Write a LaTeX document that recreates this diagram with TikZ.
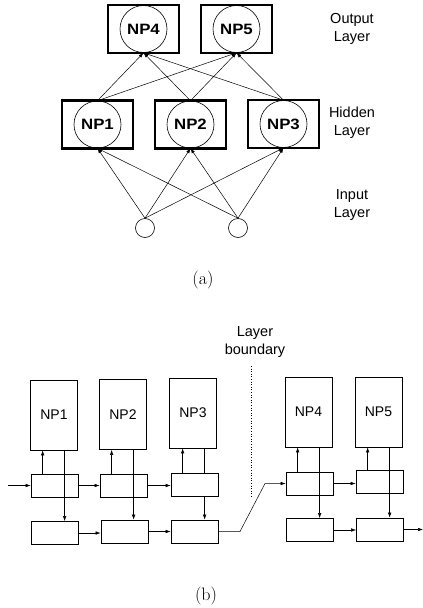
\documentclass[tikz,border=0pt]{standalone}
\usepackage{fontspec}
\newfontfamily\arialf{Liberation Sans}
\usetikzlibrary{arrows.meta}
\begin{document}
\begin{tikzpicture}[x=1pt,y=-1pt,
  arr/.style={-{Latex[length=5pt,width=3.5pt]}},
  lnk/.style={line width=0.5pt},
  nbox/.style={draw,line width=2.2pt,minimum width=71pt,minimum height=48pt,inner sep=0},
  ncirc/.style={draw,circle,line width=0.6pt,minimum size=47pt,inner sep=0,font=\arialf\bfseries\fontsize{15}{15}\selectfont},
  incirc/.style={draw,circle,line width=0.6pt,minimum size=19pt,inner sep=0},
  lab/.style={font=\arialf\fontsize{14.5}{18}\selectfont,align=center},
  bigbox/.style={draw,line width=0.7pt,minimum width=47pt,minimum height=70pt,inner sep=0,font=\arialf\fontsize{14}{14}\selectfont},
  smbox/.style={draw,line width=0.7pt,minimum width=47pt,minimum height=23pt,inner sep=0},
  capt/.style={font=\fontsize{18}{18}\selectfont}
]
\useasboundingbox (0,0) rectangle (423,608);

% ---------- (a) ----------
\node[nbox] (b4) at (143.5,29) {};
\node[nbox] (b5) at (236.5,29) {};
\node[nbox] (b1) at (97.5,124.5) {};
\node[nbox] (b2) at (190.5,124.5) {};
\node[nbox] (b3) at (283.5,124) {};
\node[ncirc] (c4) at (b4) {\scalebox{1.12}[1]{NP4}};
\node[ncirc] (c5) at (b5) {\scalebox{1.12}[1]{NP5}};
\node[ncirc] (c1) at (b1) {\scalebox{1.12}[1]{NP1}};
\node[ncirc] (c2) at (b2) {\scalebox{1.12}[1]{NP2}};
\node[ncirc] (c3) at (b3) {\scalebox{1.12}[1]{NP3}};
\node[incirc] (in1) at (145,228) {};
\node[incirc] (in2) at (238,228) {};

\foreach \s in {c1,c2,c3}{
  \foreach \t in {c4,c5}{
    \draw[lnk,arr] (\s.north) -- (\t.south);
  }
}
\foreach \s in {in1,in2}{
  \foreach \t in {c1,c2,c3}{
    \draw[lnk,arr] (\s.north) -- (\t.south);
  }
}

\node[lab] (lo) at (352,29) {Output\\Layer};
\node[lab] (lh) at (352,122.5) {Hidden\\Layer};
\node[lab] (li) at (352,205) {Input\\Layer};
\node[capt] (capa) at (203,280) {(a)};

% ---------- (b) ----------
\node[lab] (lb) at (255,342.5) {Layer\\boundary};
\coordinate (bdtop) at (251,366);
\coordinate (bdbot) at (251,498);
\draw[line width=0.6pt,dotted] (bdtop) -- (bdbot);

\node[bigbox] (P1) at (54,415) {NP1};
\node[bigbox] (P2) at (123,414.5) {NP2};
\node[bigbox] (P3) at (193,413) {NP3};
\node[bigbox] (P4) at (308.5,412) {NP4};
\node[bigbox] (P5) at (378.5,412) {NP5};

\node[smbox] (U1) at (54.5,485.5) {};
\node[smbox] (U2) at (123.5,485.5) {};
\node[smbox] (U3) at (194.5,484.5) {};
\node[smbox] (U4) at (309.5,483.5) {};
\node[smbox] (U5) at (379.5,482) {};

\node[smbox] (L1) at (55,533) {};
\node[smbox] (L2) at (124.5,531.5) {};
\node[smbox] (L3) at (194.5,531.5) {};
\node[smbox] (L4) at (309.5,530) {};
\node[smbox] (L5) at (380,529.5) {};

% vertical connections
\foreach \i in {1,2,3,4,5}{
  \coordinate (up\i) at ([xshift=12pt]U\i.north west);
  \coordinate (dn\i) at ([xshift=34pt]U\i.north west);
  \draw[lnk,arr] (up\i) -- (up\i |- P\i.south);
}
\draw[lnk,arr] (dn1 |- P1.south) -- (dn1 |- L1.north);
\draw[lnk,arr] (dn2 |- P2.south) -- (dn2 |- L2.north);
\draw[lnk] (dn3 |- P3.south) -- (dn3 |- U3.north);
\draw[lnk,arr] (dn3 |- U3.south) -- (dn3 |- L3.north);
\draw[lnk,arr] (dn4 |- P4.south) -- (dn4 |- L4.north);
\draw[lnk,arr] (dn5 |- P5.south) -- (dn5 |- L5.north);

% horizontal connections
\coordinate (inp) at (8,485.5);
\draw[lnk,arr] (inp) -- (U1.west);
\draw[lnk,arr] (U1.east) -- (U1.east -| U2.west);
\draw[lnk,arr] (U2.east) -- (U2.east -| U3.west);
\draw[lnk,arr] (L1.east) -- (L1.east -| L2.west);
\draw[lnk,arr] (L2.east) -- (L2.east -| L3.west);
\coordinate (k1) at (240,531.5);
\coordinate (k2) at (265,483.5);
\draw[lnk,arr] (L3.east) -- (k1) -- (k2) -- (U4.west);
\draw[lnk,arr] (U4.east) -- (U4.east -| U5.west);
\draw[lnk,arr] (L4.east) -- (L4.east -| L5.west);
\coordinate (outp) at (423,529.5);
\draw[lnk,arr] (L5.east) -- (outp);

\node[capt] (capb) at (206,596) {(b)};
\end{tikzpicture}
\end{document}
